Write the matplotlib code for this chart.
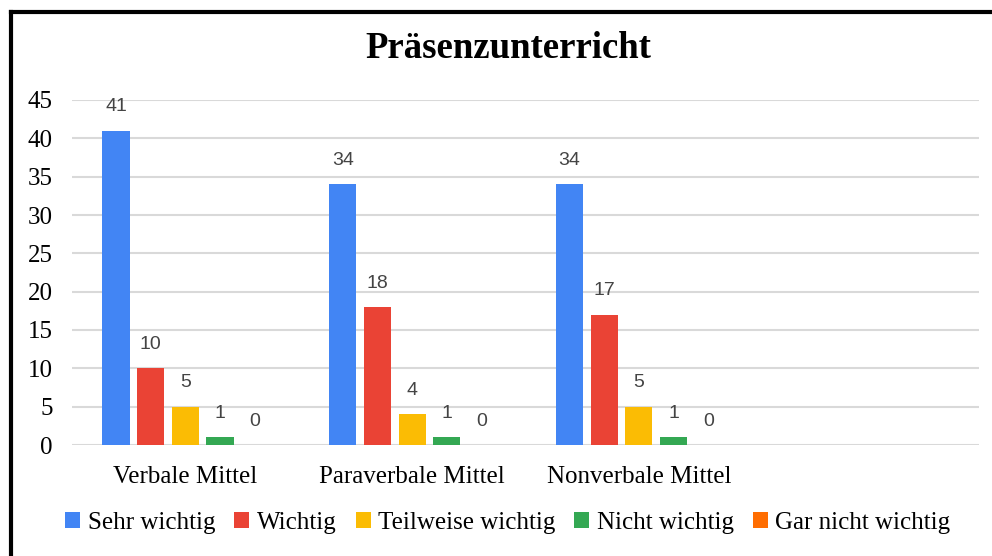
import matplotlib.pyplot as plt
import numpy as np

categories = ["Verbale Mittel", "Paraverbale Mittel", "Nonverbale Mittel", ""]
series = ["Sehr wichtig", "Wichtig", "Teilweise wichtig", "Nicht wichtig", "Gar nicht wichtig"]
sehr_wichtig = [41, 34, 34]
wichtig = [10, 18, 17]
teilweise = [5, 4, 5]
nicht_wichtig = [1, 1, 1]
gar_nicht = [0, 0, 0]
values = [sehr_wichtig, wichtig, teilweise, nicht_wichtig, gar_nicht]
colors = ["#4285F4", "#EA4335", "#FBBC04", "#34A853", "#FF6D01"]

fig = plt.figure(figsize=(9.92, 5.56), dpi=100)
ax = fig.add_axes([72 / 992, 1 - 445 / 556, (979 - 72) / 992, (445 - 100) / 556])

x = np.arange(len(categories))
pitch = 0.153
width = 0.12
for i, (name, vals, c) in enumerate(zip(series, values, colors)):
    pos = x[:len(vals)] + (i - 2) * pitch
    bars = ax.bar(pos, vals, width, color=c, label=name, zorder=3)
    for b, v in zip(bars, vals):
        ax.annotate(str(v), (b.get_x() + b.get_width() / 2, v), xytext=(0, 11),
                    textcoords="offset points", ha="center", va="bottom",
                    fontsize=14, color="#444444", family="Liberation Sans")

ax.set_xlim(-0.5, len(categories) - 0.5)
ax.set_ylim(0, 45)
ax.set_yticks(range(0, 46, 5))
ax.set_xticks(x)
ax.set_xticklabels(categories, family="Liberation Serif", fontsize=18)
for lbl in ax.get_yticklabels():
    lbl.set_family("Liberation Serif")
    lbl.set_fontsize(18)
ax.tick_params(length=0)
ax.tick_params(axis="x", pad=15)
ax.tick_params(axis="y", pad=14)
ax.grid(axis="y", color="#d9d9d9", linewidth=1.5, zorder=0)
for s in ax.spines.values():
    s.set_visible(False)

fig.text(0.512, 1 - 49 / 556, "Präsenzunterricht", ha="center", va="center",
         fontsize=26.5, fontweight="bold", family="Liberation Serif")

fig.legend(loc="center", bbox_to_anchor=(0.512, 1 - 523 / 556), ncol=5, frameon=False,
           prop={"family": "Liberation Serif", "size": 18}, handlelength=0.6,
           handleheight=0.6, handletextpad=0.3, columnspacing=0.76)

# black frame (left and top edges visible)
fig.add_artist(plt.Line2D([11 / 992, 11 / 992], [0, 1 - 12 / 556], color="black", linewidth=3))
fig.add_artist(plt.Line2D([11 / 992, 1], [1 - 12 / 556, 1 - 12 / 556], color="black", linewidth=3))

fig.savefig("out.png", dpi=100)
